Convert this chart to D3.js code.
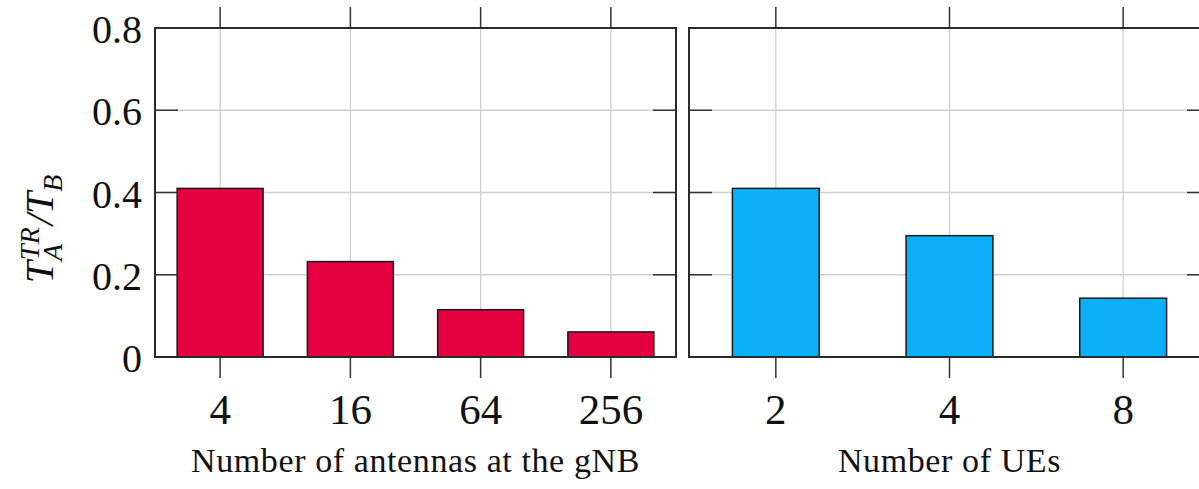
<!DOCTYPE html>
<html>
<head>
<meta charset="utf-8">
<script src="https://cdn.jsdelivr.net/npm/d3@7"></script>
<style>
  body { margin: 0; background: #fff; }
  svg { display: block; font-family: "Liberation Serif", "DejaVu Serif", serif; }
</style>
</head>
<body>
<div id="container"></div>
<script>
/* DATA */
const antennaLabels = ["4", "16", "64", "256"]
const antennaValues = [0.41, 0.232, 0.115, 0.061]
const ueLabels = ["2", "4", "8"]
const ueValues = [0.41, 0.295, 0.143]
const yTicks = [0, 0.2, 0.4, 0.6, 0.8]
const yTickLabels = ["0", "0.2", "0.4", "0.6", "0.8"]

/* CONSTANTS */
const width = 1199, height = 489
const plotTop = 28, plotBottom = 357
const panels = [
  { x0: 155, x1: 676, labels: antennaLabels, values: antennaValues, color: "#e5003f",
    inner: 0.34, title: "Number of antennas at the gNB", showY: true },
  { x0: 689, x1: 1210, labels: ueLabels, values: ueValues, color: "#0bb0f9",
    inner: 0.5, title: "Number of UEs", showY: false }
]

const svg = d3.select("#container")
  .append("svg")
  .attr("width", width)
  .attr("height", height)

const yScale = d3.scaleLinear()
  .domain([0, 0.8])
  .range([plotBottom, plotTop])

panels.forEach(p => {
  const xScale = d3.scaleBand()
    .domain(p.labels)
    .range([p.x0, p.x1])
    .paddingInner(p.inner)
    .paddingOuter(p.inner / 2)

  const g = svg.append("g")
  const cx = d => xScale(d) + xScale.bandwidth() / 2

  // grid
  g.selectAll(".hgrid")
    .data(yTicks.slice(1, -1))
    .join("line")
    .attr("x1", p.x0).attr("x2", p.x1)
    .attr("y1", d => yScale(d)).attr("y2", d => yScale(d))
    .attr("stroke", "#cfcfcf").attr("stroke-width", 1.3)

  g.selectAll(".vgrid")
    .data(p.labels)
    .join("line")
    .attr("x1", cx).attr("x2", cx)
    .attr("y1", plotTop).attr("y2", plotBottom)
    .attr("stroke", "#cfcfcf").attr("stroke-width", 1.3)

  // bars
  g.selectAll(".bar")
    .data(p.values)
    .join("rect")
    .attr("x", (d, i) => xScale(p.labels[i]))
    .attr("width", xScale.bandwidth())
    .attr("y", d => yScale(d))
    .attr("height", d => yScale(0) - yScale(d))
    .attr("fill", p.color)
    .attr("stroke", "#1a1a1a")
    .attr("stroke-width", 1.5)

  // inward y ticks on both sides
  const tl = 23
  g.selectAll(".ytl")
    .data(yTicks)
    .join("line")
    .attr("x1", p.x0).attr("x2", p.x0 + tl)
    .attr("y1", d => yScale(d)).attr("y2", d => yScale(d))
    .attr("stroke", "#333").attr("stroke-width", 1.5)
  g.selectAll(".ytr")
    .data(yTicks)
    .join("line")
    .attr("x1", p.x1).attr("x2", p.x1 - tl)
    .attr("y1", d => yScale(d)).attr("y2", d => yScale(d))
    .attr("stroke", "#333").attr("stroke-width", 1.5)

  // outward x ticks top and bottom
  g.selectAll(".xtb")
    .data(p.labels)
    .join("line")
    .attr("x1", cx).attr("x2", cx)
    .attr("y1", plotBottom).attr("y2", plotBottom + 21)
    .attr("stroke", "#333").attr("stroke-width", 1.5)
  g.selectAll(".xtt")
    .data(p.labels)
    .join("line")
    .attr("x1", cx).attr("x2", cx)
    .attr("y1", plotTop).attr("y2", plotTop - 21)
    .attr("stroke", "#333").attr("stroke-width", 1.5)

  // frame
  g.append("rect")
    .attr("x", p.x0).attr("y", plotTop)
    .attr("width", p.x1 - p.x0).attr("height", plotBottom - plotTop)
    .attr("fill", "none")
    .attr("stroke", "#2a2a2a")
    .attr("stroke-width", 2)

  // x tick labels
  g.selectAll(".xlab")
    .data(p.labels)
    .join("text")
    .attr("x", cx)
    .attr("y", 424)
    .attr("text-anchor", "middle")
    .attr("font-size", 43)
    .attr("fill", "#111")
    .text(d => d)

  // x title
  g.append("text")
    .attr("x", (p.x0 + p.x1) / 2)
    .attr("y", 472)
    .attr("text-anchor", "middle")
    .attr("font-size", 34)
    .attr("letter-spacing", 0.6)
    .attr("fill", "#111")
    .text(p.title)

  if (p.showY) {
    g.selectAll(".ylab")
      .data(yTicks)
      .join("text")
      .attr("x", p.x0 - 13)
      .attr("y", d => yScale(d) + 15)
      .attr("text-anchor", "end")
      .attr("font-size", 40)
      .attr("fill", "#111")
      .text((d, i) => yTickLabels[i])
  }
})

// y axis label: T_A^TR / T_B
const ylab = svg.append("text")
  .attr("transform", "translate(53, 229) rotate(-90)")
  .attr("text-anchor", "middle")
  .attr("font-size", 40)
  .attr("font-style", "italic")
  .attr("fill", "#111")
ylab.append("tspan").text("T")
ylab.append("tspan").attr("font-size", 28).attr("dx", 0).attr("dy", 9).text("A")
ylab.append("tspan").attr("font-size", 28).attr("dx", -15).attr("dy", -23).text("TR")
ylab.append("tspan").attr("dx", 2).attr("dy", 14).text("/")
ylab.append("tspan").text("T")
ylab.append("tspan").attr("font-size", 28).attr("dy", 9).text("B")
</script>
</body>
</html>
